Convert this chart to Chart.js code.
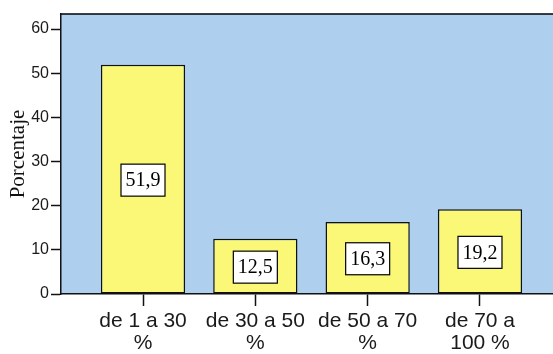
<!DOCTYPE html>
<html>
  <head>
    <title>Porcentaje</title>
    <script src="https://cdn.jsdelivr.net/npm/chart.js@4.4.1/dist/chart.umd.min.js"></script>
    <style>
    body{
    	margin: 0;
    	background-color: white;
    }
    .container{
    	width: 553px;
    	height: 354px;
    	overflow: hidden;
    }
  	</style>
  </head>
  <body>

    <div class='container'>
      <canvas id="porcentaje"></canvas>
    </div>

  <script type="text/javascript">

  var categories = [["de 1 a 30", "%"], ["de 30 a 50", "%"], ["de 50 a 70", "%"], ["de 70 a", "100 %"]];
  var percentages = [51.9, 12.5, 16.3, 19.2];
  var valueLabels = ["51,9", "12,5", "16,3", "19,2"];
  var yTicks = [0, 10, 20, 30, 40, 50, 60];

  var plotBlue = '#aecfee';
  var barYellow = '#faf876';

  // blue plot area with the frame line along the top
  var plotFrame = {
    id: 'plotFrame',
    beforeDraw: function(chart){
      var ctx = chart.ctx, a = chart.chartArea;
      ctx.save();
      ctx.fillStyle = plotBlue;
      ctx.fillRect(a.left, a.top, a.right - a.left, a.bottom - a.top);
      ctx.strokeStyle = '#000';
      ctx.lineWidth = 1.5;
      ctx.beginPath();
      ctx.moveTo(a.left, a.top);
      ctx.lineTo(a.right, a.top);
      ctx.stroke();
      ctx.restore();
    }
  };

  // boxed value in the middle of each bar
  var boxedValues = {
    id: 'boxedValues',
    afterDatasetsDraw: function(chart){
      var ctx = chart.ctx;
      var meta = chart.getDatasetMeta(0);
      ctx.save();
      ctx.font = '20px "Liberation Serif", "Times New Roman", serif';
      ctx.textAlign = 'center';
      ctx.textBaseline = 'middle';
      meta.data.forEach(function(bar, i){
        var text = valueLabels[i];
        var w = ctx.measureText(text).width + 9;
        var h = 32;
        var cy = (bar.y + bar.base) / 2 + 1;
        ctx.fillStyle = '#fff';
        ctx.fillRect(bar.x - w / 2, cy - h / 2, w, h);
        ctx.strokeStyle = '#000';
        ctx.lineWidth = 1.2;
        ctx.strokeRect(bar.x - w / 2, cy - h / 2, w, h);
        ctx.fillStyle = '#000';
        ctx.fillText(text, bar.x, cy + 1);
      });
      ctx.restore();
    }
  };

  var ctx = document.getElementById("porcentaje").getContext("2d");

  new Chart(ctx, {
    type: 'bar',
    data: {
      datasets: [{
        data: percentages.map(function(v, i){ return { x: i, y: v }; }),
        backgroundColor: barYellow,
        borderColor: '#111',
        borderWidth: 1.5,
        borderSkipped: false,
        barPercentage: 0.75,
        categoryPercentage: 1
      }]
    },
    options: {
      responsive: true,
      maintainAspectRatio: false,
      animation: false,
      layout: { padding: { top: 14, right: 0, left: 0, bottom: 0 } },
      plugins: {
        legend: { display: false },
        tooltip: { enabled: false }
      },
      scales: {
        x: {
          type: 'linear',
          offset: false,
          min: -0.73,
          max: 3.65,
          afterBuildTicks: function(scale){
            scale.ticks = categories.map(function(c, i){ return { value: i }; });
          },
          afterFit: function(scale){ scale.height = 60; },
          grid: {
            offset: false,
            drawOnChartArea: false,
            drawTicks: true,
            tickLength: 12,
            tickWidth: 1.5,
            tickColor: '#111'
          },
          border: { display: true, color: '#111', width: 1.5 },
          ticks: {
            color: '#1a1a1a',
            padding: 4,
            maxRotation: 0,
            autoSkip: false,
            font: { family: '"Liberation Sans", Arial, sans-serif', size: 21, lineHeight: 1.05 },
            callback: function(v){ return categories[Math.round(v)]; }
          }
        },
        y: {
          min: 0,
          max: 63.4,
          afterBuildTicks: function(scale){
            scale.ticks = yTicks.map(function(v){ return { value: v }; });
          },
          afterFit: function(scale){ scale.width = 61; },
          grid: {
            drawOnChartArea: false,
            drawTicks: true,
            tickLength: 10,
            tickWidth: 1.5,
            tickColor: '#111'
          },
          border: { display: true, color: '#111', width: 1.5 },
          ticks: {
            color: '#1a1a1a',
            padding: 2,
            font: { family: '"Liberation Sans", Arial, sans-serif', size: 16 }
          },
          title: {
            display: true,
            text: 'Porcentaje',
            color: '#111',
            padding: { top: 6, bottom: 0 },
            font: { family: '"Liberation Serif", "Times New Roman", serif', size: 21, lineHeight: 1.2 }
          }
        }
      }
    },
    plugins: [plotFrame, boxedValues]
  });

  </script>
  </body>
</html>
